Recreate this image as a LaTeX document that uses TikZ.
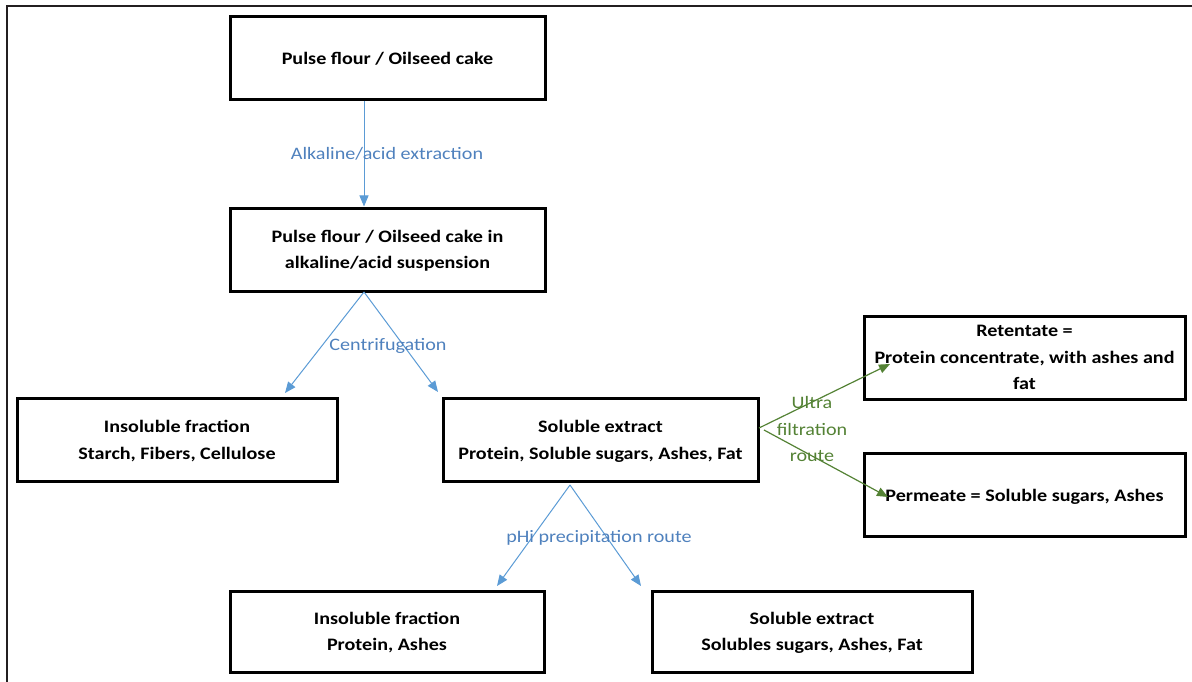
\documentclass[tikz,border=0pt]{standalone}
\usepackage{fontspec}
\setmainfont{Carlito}[FakeStretch=1.15]
\usepackage{tikz}
\usetikzlibrary{arrows.meta}

\definecolor{arrowblue}{HTML}{5B9BD5}
\definecolor{labelblue}{HTML}{4F81BD}
\definecolor{routegreen}{HTML}{548235}
\definecolor{framegray}{HTML}{231F20}

\tikzset{
    box/.style={draw, line width=3pt, align=center, minimum width=315pt, minimum height=83pt,
        inner sep=1pt, text depth=-4pt, font=\fontsize{17.5}{26.5}\selectfont\bfseries},
    blueflow/.style={draw=arrowblue, line width=1pt, -{Triangle[length=11pt, width=9pt]}},
    greenflow/.style={draw=routegreen, line width=1.2pt, -{Triangle[length=11pt, width=9pt]}},
    bluelabel/.style={text=labelblue, font=\fontsize{17.5}{26.5}\selectfont},
    greenlabel/.style={text=routegreen, align=center, font=\fontsize{17.5}{26.8}\selectfont},
}

\begin{document}
\begin{tikzpicture}[x=1pt, y=-1pt]
    \useasboundingbox (0,0) rectangle (1192,682);
    \draw[framegray, line width=2.5pt] (7,682) -- (7,6) -- (1192,6);

    \node[box] at (387.5, 58) (0) {Pulse flour / Oilseed cake};
    \node[box] at (387.5, 249.5) (1) {Pulse flour / Oilseed cake in\\alkaline/acid suspension};
    \node[box, minimum width=320pt] at (177, 440) (2) {Insoluble fraction\\Starch, Fibers, Cellulose};
    \node[box] at (600.5, 440) (3) {Soluble extract\\Protein, Soluble sugars, Ashes, Fat};
    \node[box, minimum width=321pt] at (1024.5, 357.5) (4) {Retentate =\\Protein concentrate, with ashes and\\fat};
    \node[box, minimum width=321pt] at (1024.5, 495) (5) {Permeate = Soluble sugars, Ashes};
    \node[box, minimum width=314pt, minimum height=81pt] at (387, 631.5) (6) {Insoluble fraction\\Protein, Ashes};
    \node[box, minimum width=320pt, minimum height=81pt] at (812, 631.5) (7) {Soluble extract\\Solubles sugars, Ashes, Fat};

    % free ends of the arrows
    \coordinate (c1) at (364, 292);
    \coordinate (c2) at (285, 393);
    \coordinate (c3) at (438, 392);
    \coordinate (c4) at (570, 485);
    \coordinate (c5) at (497, 586);
    \coordinate (c6) at (641, 586);
    \coordinate (u0) at (759, 428);
    \coordinate (u1) at (764, 430);
    \coordinate (u2) at (890, 364);
    \coordinate (u3) at (888, 497);

    \draw[blueflow] ([xshift=-23.5pt]0.south) -- ([xshift=-23.5pt]1.north);
    \draw[blueflow] (c1) -- (c2);
    \draw[blueflow] (c1) -- (c3);
    \draw[blueflow] (c4) -- (c5);
    \draw[blueflow] (c4) -- (c6);
    \draw[greenflow] (u0) -- (u2);
    \draw[greenflow] (u1) -- (u3);

    \node[bluelabel] at (387, 154) (l0) {Alkaline/acid extraction};
    \node[bluelabel] at (388, 346) (l1) {Centrifugation};
    \node[bluelabel] at (599, 538) (l2) {pHi precipitation route};
    \node[greenlabel] at (812, 429) (l3) {Ultra\\filtration\\route};
\end{tikzpicture}
\end{document}
